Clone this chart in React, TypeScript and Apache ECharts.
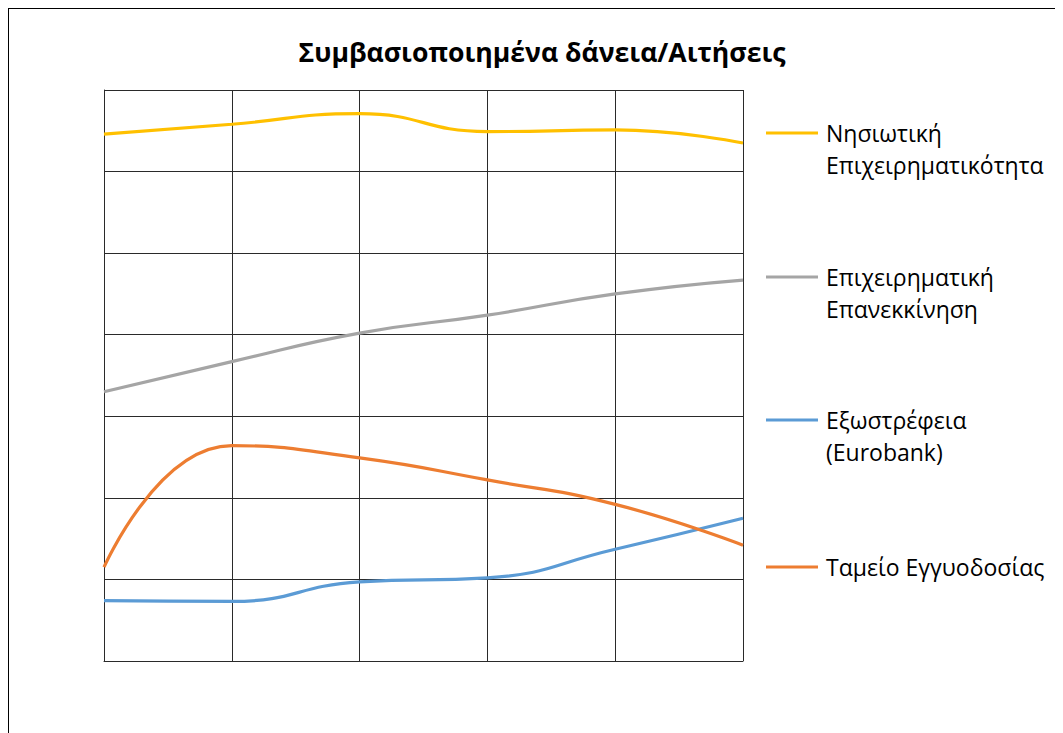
import React, { useEffect, useRef } from "react";
import * as echarts from "echarts";

const categories = ["1", "2", "3", "4", "5", "6"];
const islandBusiness = [6.46, 6.58, 6.71, 6.49, 6.51, 6.35];
const businessRestart = [3.3, 3.67, 4.02, 4.24, 4.5, 4.67];
const extroversion = [0.74, 0.73, 0.97, 1.02, 1.37, 1.75];
const guaranteeFund = [1.15, 2.64, 2.49, 2.22, 1.92, 1.42];

const seriesNames = [
  "Νησιωτική Επιχειρηματικότητα",
  "Επιχειρηματική Επανεκκίνηση",
  "Εξωστρέφεια (Eurobank)",
  "Ταμείο Εγγυοδοσίας",
];
const legendLabels = [
  "\nΝησιωτική\nΕπιχειρηματικότητα",
  "\nΕπιχειρηματική\nΕπανεκκίνηση",
  "\nΕξωστρέφεια\n(Eurobank)",
  "Ταμείο Εγγυοδοσίας",
];
const colors = ["#FFC000", "#A5A5A5", "#5B9BD5", "#ED7D31"];
const seriesData = [islandBusiness, businessRestart, extroversion, guaranteeFund];

const FONT = "'Open Sans', 'Noto Sans', sans-serif";

export default function App() {
  const ref = useRef<HTMLDivElement>(null);
  useEffect(() => {
    if (!ref.current) return;
    const chart = echarts.init(ref.current, null, { renderer: "svg" });
    const legendTops = [133 - 9 - 48, 277 - 9 - 48, 420 - 9 - 48, 567 - 9 - 16];
    chart.setOption({
      animation: false,
      title: {
        text: "Συμβασιοποιημένα δάνεια/Αιτήσεις",
        left: 528,
        textAlign: "center",
        top: 24,
        textStyle: { fontFamily: FONT, fontWeight: "bold", fontSize: 26.6, color: "#000" },
      },
      legend: seriesNames.map((n, i) => ({
        data: [n],
        orient: "vertical",
        left: 757,
        top: legendTops[i],
        padding: 0,
        itemWidth: 52,
        itemHeight: 3,
        itemGap: 0,
        icon: "rect",
        selectedMode: false,
        formatter: () => legendLabels[i],
        textStyle: {
          fontFamily: FONT,
          fontSize: 23,
          color: "#000",
          lineHeight: 32,
          padding: [0, 0, 0, 3],
        },
      })),
      grid: { left: 95, top: 81, width: 639, height: 571, containLabel: false },
      xAxis: {
        type: "category",
        data: categories,
        boundaryGap: false,
        axisLabel: { show: false },
        axisTick: { show: false },
        axisLine: { show: true, lineStyle: { color: "#2a2a2a", width: 1 } },
        splitLine: { show: true, lineStyle: { color: "#2a2a2a", width: 1 } },
      },
      yAxis: {
        type: "value",
        min: 0,
        max: 7,
        interval: 1,
        axisLabel: { show: false },
        axisTick: { show: false },
        axisLine: { show: true, lineStyle: { color: "#2a2a2a", width: 1 } },
        splitLine: { show: true, lineStyle: { color: "#2a2a2a", width: 1 } },
      },
      series: seriesNames.map((n, i) => ({
        name: n,
        type: "line",
        data: seriesData[i],
        smooth: 0.5,
        showSymbol: false,
        symbol: "none",
        color: colors[i],
        lineStyle: { color: colors[i], width: 3.2 },
      })),
    });
    return () => chart.dispose();
  }, []);
  return (
    <div
      style={{
        width: 1055,
        height: 725,
        borderTop: "1px solid #000",
        borderLeft: "1px solid #000",
        boxSizing: "border-box",
        overflow: "hidden",
      }}
    >
      <div ref={ref} style={{ width: 1054, height: 724 }} />
    </div>
  );
}
